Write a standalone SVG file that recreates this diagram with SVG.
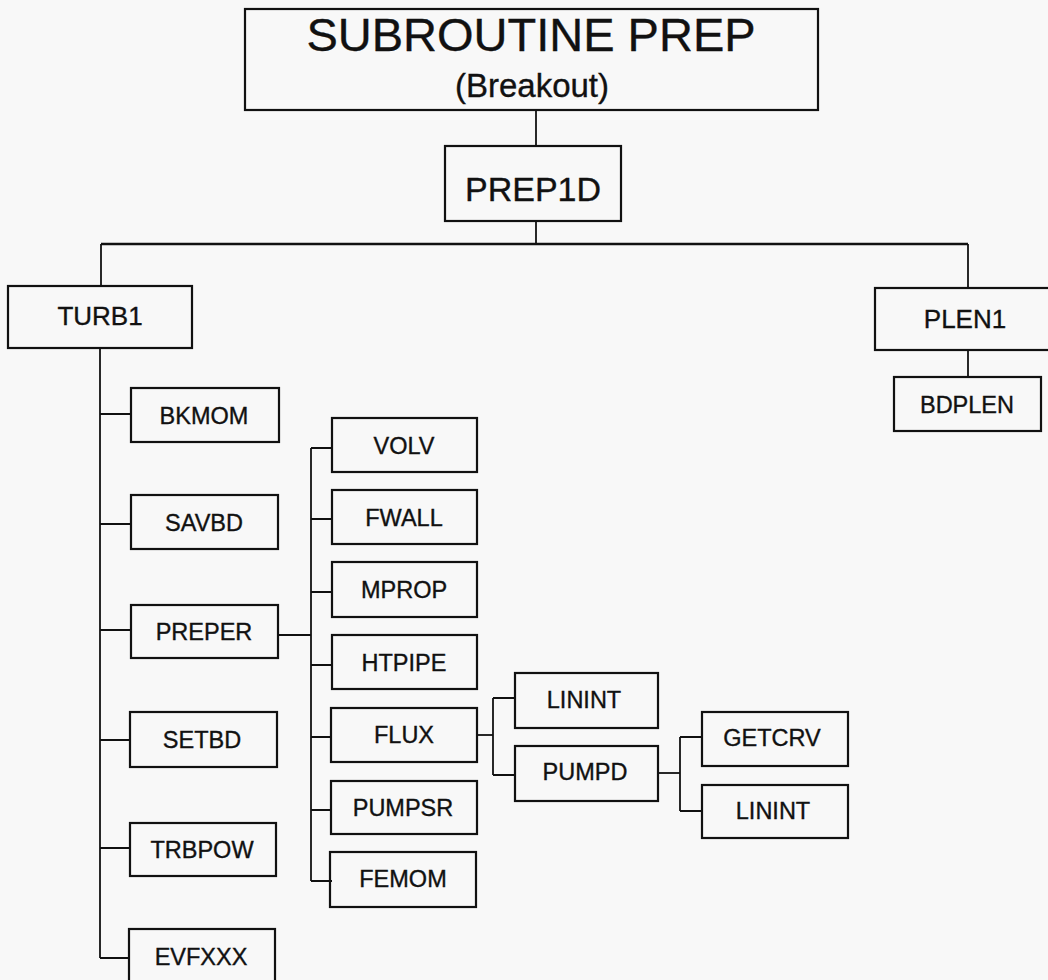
<svg xmlns="http://www.w3.org/2000/svg" width="1048" height="980" viewBox="0 0 1048 980">
  <style>
    .box { fill: none; stroke: #111; stroke-width: 2.2; }
    .wire { fill: none; stroke: #111; stroke-width: 1.8; }
    .lbl { font-family: "Liberation Sans", Arial, sans-serif; fill: #111; stroke: #111; stroke-width: 0.35; text-anchor: middle; }
    .sm { font-size: 23.5px; }
    .md { font-size: 26px; }
  </style>
  <rect width="1048" height="980" fill="#f8f8f8"/>

  <!-- connectors -->
  <g id="connectors">
    <path class="wire" d="M536 110 V146"/>
    <path class="wire" d="M536 221 V244"/>
    <path class="wire" d="M101 244 H968" style="stroke-width:2.4"/>
    <path class="wire" d="M101 244 V286"/>
    <path class="wire" d="M968 244 V288"/>
    <path class="wire" d="M968 350 V377"/>
    <!-- TURB1 spine -->
    <path class="wire" d="M100 348 V958"/>
    <path class="wire" d="M100 414 H131 M100 524 H131 M100 630 H131 M100 740 H131 M100 848 H131 M100 958 H130"/>
    <!-- PREPER fan-out -->
    <path class="wire" d="M278 635 H311"/>
    <path class="wire" d="M311 448 V881"/>
    <path class="wire" d="M311 448 H332 M311 519 H332 M311 592 H332 M311 665 H332 M311 737 H332 M311 810 H332 M311 881 H332"/>
    <!-- FLUX fan-out -->
    <path class="wire" d="M477 735 H493"/>
    <path class="wire" d="M493 698 V775"/>
    <path class="wire" d="M493 698 H515 M493 775 H515"/>
    <!-- PUMPD fan-out -->
    <path class="wire" d="M658 773 H680"/>
    <path class="wire" d="M680 737 V811"/>
    <path class="wire" d="M680 737 H702 M680 811 H702"/>
  </g>

  <g id="subroutine-prep">
    <rect class="box" x="245" y="9" width="573" height="101"/>
    <text class="lbl" x="531" y="51" font-size="47">SUBROUTINE PREP</text>
    <text class="lbl" x="532" y="97" font-size="33">(Breakout)</text>
  </g>
  <g id="prep1d">
    <rect class="box" x="445" y="146" width="176" height="75"/>
    <text class="lbl" x="533" y="201" font-size="34">PREP1D</text>
  </g>
  <g id="turb1">
    <rect class="box" x="8" y="286" width="184" height="62"/>
    <text class="lbl md" x="100" y="325">TURB1</text>
  </g>
  <g id="plen1">
    <rect class="box" x="875" y="288" width="180" height="62"/>
    <text class="lbl md" x="965" y="328">PLEN1</text>
  </g>
  <g id="bdplen">
    <rect class="box" x="894" y="377" width="147" height="54"/>
    <text class="lbl sm" x="967" y="413">BDPLEN</text>
  </g>

  <!-- TURB1 callees -->
  <g id="bkmom">
    <rect class="box" x="131" y="388" width="148" height="54"/>
    <text class="lbl sm" x="204" y="424">BKMOM</text>
  </g>
  <g id="savbd">
    <rect class="box" x="131" y="495" width="147" height="54"/>
    <text class="lbl sm" x="204" y="531">SAVBD</text>
  </g>
  <g id="preper">
    <rect class="box" x="131" y="605" width="147" height="53"/>
    <text class="lbl sm" x="204" y="640">PREPER</text>
  </g>
  <g id="setbd">
    <rect class="box" x="130" y="712" width="147" height="55"/>
    <text class="lbl sm" x="202" y="748">SETBD</text>
  </g>
  <g id="trbpow">
    <rect class="box" x="130" y="823" width="146" height="53"/>
    <text class="lbl sm" x="202" y="858">TRBPOW</text>
  </g>
  <g id="evfxxx">
    <rect class="box" x="129" y="929" width="146" height="55"/>
    <text class="lbl sm" x="201" y="965">EVFXXX</text>
  </g>

  <!-- PREPER callees -->
  <g id="volv">
    <rect class="box" x="332" y="418" width="145" height="54"/>
    <text class="lbl sm" x="404" y="454">VOLV</text>
  </g>
  <g id="fwall">
    <rect class="box" x="332" y="490" width="145" height="54"/>
    <text class="lbl sm" x="404" y="526">FWALL</text>
  </g>
  <g id="mprop">
    <rect class="box" x="332" y="562" width="145" height="55"/>
    <text class="lbl sm" x="404" y="598">MPROP</text>
  </g>
  <g id="htpipe">
    <rect class="box" x="332" y="635" width="145" height="54"/>
    <text class="lbl sm" x="404" y="671">HTPIPE</text>
  </g>
  <g id="flux">
    <rect class="box" x="331" y="708" width="146" height="54"/>
    <text class="lbl sm" x="404" y="743">FLUX</text>
  </g>
  <g id="pumpsr">
    <rect class="box" x="331" y="781" width="146" height="53"/>
    <text class="lbl sm" x="403" y="816">PUMPSR</text>
  </g>
  <g id="femom">
    <rect class="box" x="330" y="852" width="146" height="55"/>
    <text class="lbl sm" x="403" y="887">FEMOM</text>
  </g>

  <!-- FLUX callees -->
  <g id="linint-a">
    <rect class="box" x="515" y="673" width="143" height="55"/>
    <text class="lbl sm" x="584" y="708">LININT</text>
  </g>
  <g id="pumpd">
    <rect class="box" x="515" y="746" width="143" height="55"/>
    <text class="lbl sm" x="585" y="780">PUMPD</text>
  </g>

  <!-- PUMPD callees -->
  <g id="getcrv">
    <rect class="box" x="702" y="712" width="146" height="54"/>
    <text class="lbl sm" x="772" y="746">GETCRV</text>
  </g>
  <g id="linint-b">
    <rect class="box" x="702" y="785" width="146" height="53"/>
    <text class="lbl sm" x="773" y="819">LININT</text>
  </g>
</svg>
